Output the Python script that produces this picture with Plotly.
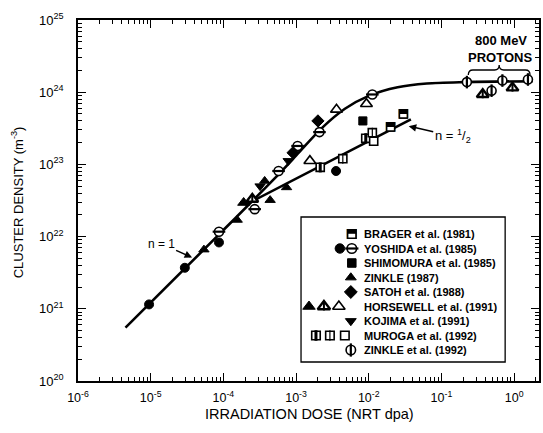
import plotly.graph_objects as go

# ---------------- data ----------------
YOSHIDA_FILLED_X = [9.5e-6, 2.95e-5, 8.7e-5, 3.55e-3]
YOSHIDA_FILLED_Y = [1.15e21, 3.7e21, 8.3e21, 8.1e22]
YOSHIDA_OPEN_X = [8.7e-5, 2.7e-4, 5.75e-4, 1.05e-3, 2.1e-3, 1.12e-2]
YOSHIDA_OPEN_Y = [1.17e22, 2.4e22, 8.1e22, 1.8e23, 2.8e23, 9.3e23]
ZINKLE87_X = [5.4e-5, 1.55e-4, 4.4e-4, 7.4e-4, 3.7e-4]
ZINKLE87_Y = [6.6e21, 1.7e22, 3.2e22, 4.8e22, 5.9e22]
KOJIMA_X = [3.2e-4, 7.8e-4]
KOJIMA_Y = [5.0e22, 1.12e23]
SATOH_X = [9.1e-4, 2.0e-3]
SATOH_Y = [1.45e23, 4.0e23]
SHIMOMURA_X = [8.3e-3]
SHIMOMURA_Y = [4.0e23]
HORSEWELL_FILLED_X = [1.9e-4]
HORSEWELL_FILLED_Y = [2.95e22]
HORSEWELL_HALF_X = [2.5e-4, 0.37, 0.95]
HORSEWELL_HALF_Y = [3.3e22, 9.3e23, 1.15e24]
HORSEWELL_OPEN_X = [1.55e-3, 3.6e-3, 9.3e-3]
HORSEWELL_OPEN_Y = [1.12e23, 5.75e23, 6.9e23]
BRAGER_X = [2.0e-2, 3.0e-2]
BRAGER_Y = [3.3e23, 5.0e23]
MUROGA_HALF_X = [2.15e-3, 9.1e-3]
MUROGA_HALF_Y = [9.1e22, 2.3e23]
MUROGA_SPLIT_X = [4.4e-3, 1.12e-2]
MUROGA_SPLIT_Y = [1.2e23, 2.75e23]
MUROGA_OPEN_X = [1.17e-2]
MUROGA_OPEN_Y = [2.1e23]
ZINKLE92_X = [0.224, 0.49, 0.69, 1.55]
ZINKLE92_Y = [1.38e24, 1.05e24, 1.45e24, 1.5e24]

# fitted curves
CURVE_N1_X = [4.5e-6, 1e-4, 5.0e-4, 1e-3, 2.24e-3, 4.7e-3, 1e-2, 2.5e-2, 6.3e-2, 0.2, 1.8]
CURVE_N1_Y = [5.5e20, 1.23e22, 6.3e22, 1.32e23, 3.16e23, 5.9e23, 8.9e23, 1.17e24, 1.32e24, 1.38e24, 1.42e24]
CURVE_NHALF_X = [2.0e-4, 3.8e-2]
CURVE_NHALF_Y = [2.75e22, 4.2e23]

XTICK_VALS = [1e-6, 1e-5, 1e-4, 1e-3, 1e-2, 1e-1, 1e0]
XTICK_TEXT = ["10<sup>-6</sup>", "10<sup>-5</sup>", "10<sup>-4</sup>", "10<sup>-3</sup>",
              "10<sup>-2</sup>", "10<sup>-1</sup>", "10<sup>0</sup>"]
YTICK_VALS = [1e20, 1e21, 1e22, 1e23, 1e24, 1e25]
YTICK_TEXT = ["10<sup>20</sup>", "10<sup>21</sup>", "10<sup>22</sup>", "10<sup>23</sup>",
              "10<sup>24</sup>", "10<sup>25</sup>"]

LEGEND_LABELS = ["BRAGER et al. (1981)", "YOSHIDA et al. (1985)", "SHIMOMURA et al. (1985)",
                 "ZINKLE (1987)", "SATOH et al. (1988)", "HORSEWELL et al. (1991)",
                 "KOJIMA et al. (1991)", "MUROGA et al. (1992)", "ZINKLE et al. (1992)"]

# ---------------- layout geometry ----------------
W, H = 543, 433
L, R, T, B = 78, 2, 20, 52
PW, PH = W - L - R, H - T - B


def px(xp):
    return (xp - L) / PW


def py(yp):
    return (H - B - yp) / PH


FONT = "Liberation Sans, Arial, sans-serif"
fig = go.Figure()

# curves
fig.add_trace(go.Scatter(x=CURVE_N1_X, y=CURVE_N1_Y, mode="lines",
                         line=dict(color="black", width=2.6, shape="spline", smoothing=0.8)))
fig.add_trace(go.Scatter(x=CURVE_NHALF_X, y=CURVE_NHALF_Y, mode="lines",
                         line=dict(color="black", width=2.6)))

MS = 9
LW = 1.6


def sym(xs, ys, symbol, size=MS, fill="black", lw=LW, xa="x", ya="y"):
    fig.add_trace(go.Scatter(x=xs, y=ys, mode="markers", xaxis=xa, yaxis=ya,
                             marker=dict(symbol=symbol, size=size, color=fill,
                                         line=dict(color="black", width=lw))))


def glyph(xs, ys, ch, size=11, xa="x", ya="y"):
    fig.add_trace(go.Scatter(x=xs, y=ys, mode="text", text=[ch] * len(xs), xaxis=xa, yaxis=ya,
                             textposition="middle center",
                             textfont=dict(family="DejaVu Sans", size=size, color="black")))


def draw_set(key, xs, ys, xa="x", ya="y", scale=1.0):
    s = MS * scale
    if key == "yosh_filled":
        sym(xs, ys, "circle", s, "black", 1, xa, ya)
    elif key == "yosh_open":
        sym(xs, ys, "circle", s, "white", LW, xa, ya)
        sym(xs, ys, "line-ew", s, "black", 2.2, xa, ya)
    elif key == "zinkle87":
        sym(xs, ys, "triangle-up", s, "black", 1, xa, ya)
    elif key == "kojima":
        sym(xs, ys, "triangle-down", s, "black", 1, xa, ya)
    elif key == "satoh":
        sym(xs, ys, "diamond", s * 1.05, "black", 1, xa, ya)
    elif key == "shimomura":
        sym(xs, ys, "square", s * 0.9, "black", 1, xa, ya)
    elif key == "hors_filled":
        sym(xs, ys, "triangle-up", s * 1.15, "black", 1, xa, ya)
    elif key == "hors_half":
        sym(xs, ys, "triangle-up", s * 1.15, "white", 2.4, xa, ya)
        sym(xs, ys, "line-ns", s * 0.6, "black", 2, xa, ya)
    elif key == "hors_open":
        sym(xs, ys, "triangle-up", s * 1.15, "white", LW, xa, ya)
    elif key == "brager":
        sym(xs, ys, "square", s * 0.9, "white", LW, xa, ya)
        glyph(xs, ys, "\u2b12", 12 * scale, xa, ya)
    elif key == "muroga_half":
        sym(xs, ys, "square", s * 0.9, "white", LW, xa, ya)
        sym(xs, ys, "line-ns", s * 0.8, "black", 3, xa, ya)
    elif key == "muroga_split":
        sym(xs, ys, "square", s * 0.9, "white", LW, xa, ya)
        sym(xs, ys, "line-ns", s * 0.8, "black", 1.2, xa, ya)
    elif key == "muroga_open":
        sym(xs, ys, "square", s * 0.9, "white", LW, xa, ya)
    elif key == "zinkle92":
        sym(xs, ys, "circle", s, "white", LW, xa, ya)
        sym(xs, ys, "line-ns", s, "black", 2.2, xa, ya)


draw_set("yosh_open", YOSHIDA_OPEN_X, YOSHIDA_OPEN_Y)
draw_set("yosh_filled", YOSHIDA_FILLED_X, YOSHIDA_FILLED_Y)
draw_set("zinkle87", ZINKLE87_X, ZINKLE87_Y)
draw_set("kojima", KOJIMA_X, KOJIMA_Y)
draw_set("satoh", SATOH_X, SATOH_Y)
draw_set("shimomura", SHIMOMURA_X, SHIMOMURA_Y)
draw_set("hors_filled", HORSEWELL_FILLED_X, HORSEWELL_FILLED_Y)
draw_set("hors_half", HORSEWELL_HALF_X, HORSEWELL_HALF_Y)
draw_set("hors_open", HORSEWELL_OPEN_X, HORSEWELL_OPEN_Y)
draw_set("brager", BRAGER_X, BRAGER_Y)
draw_set("muroga_half", MUROGA_HALF_X, MUROGA_HALF_Y)
draw_set("muroga_split", MUROGA_SPLIT_X, MUROGA_SPLIT_Y)
draw_set("muroga_open", MUROGA_OPEN_X, MUROGA_OPEN_Y)
draw_set("zinkle92", ZINKLE92_X, ZINKLE92_Y)

# ---------------- hand-made legend (keys on an overlay paper-like axis) ----------------
ROW0, PITCH = 234, 14.5
rows = [ROW0 + i * PITCH for i in range(len(LEGEND_LABELS))]
legend_keys = [
    [("brager", 353)],
    [("yosh_filled", 341), ("yosh_open", 353)],
    [("shimomura", 353)],
    [("zinkle87", 352)],
    [("satoh", 352)],
    [("hors_filled", 310), ("hors_half", 325), ("hors_open", 340)],
    [("kojima", 352)],
    [("muroga_half", 317), ("muroga_split", 331), ("muroga_open", 346)],
    [("zinkle92", 352)],
]
for row_y, keys in zip(rows, legend_keys):
    for key, kx in keys:
        draw_set(key, [px(kx)], [py(row_y)], "x2", "y2", 1.05)

fig.add_shape(type="rect", xref="paper", yref="paper",
              x0=px(302), x1=px(507), y0=py(362), y1=py(217),
              line=dict(color="black", width=1.3))

annotations = []
for row_y, lab in zip(rows, LEGEND_LABELS):
    annotations.append(dict(x=px(363), y=py(row_y), xref="paper", yref="paper",
                            text="<b>" + lab + "</b>", showarrow=False,
                            xanchor="left", yanchor="middle",
                            font=dict(family=FONT, size=11, color="black")))

# axis titles
annotations.append(dict(x=px(311), y=py(414), xref="paper", yref="paper",
                        text="IRRADIATION DOSE (NRT dpa)", showarrow=False,
                        xanchor="center", yanchor="middle",
                        font=dict(family=FONT, size=14.5, color="black")))
annotations.append(dict(x=px(17), y=py(202), xref="paper", yref="paper",
                        text="CLUSTER DENSITY (m<sup>-3</sup>)", showarrow=False, textangle=-90,
                        xanchor="center", yanchor="middle",
                        font=dict(family=FONT, size=13, color="black")))

# slope labels with arrows
annotations.append(dict(x=-4.43, y=21.71, xref="x", yref="y", text="n = 1",
                        showarrow=True, arrowhead=2, arrowsize=1, arrowwidth=1.5,
                        arrowcolor="black", ax=-31, ay=-14,
                        font=dict(family=FONT, size=12, color="black")))
annotations.append(dict(x=-1.45, y=23.53, xref="x", yref="y",
                        text="n = <sup>1</sup>/<sub>2</sub>",
                        showarrow=True, arrowhead=2, arrowsize=1, arrowwidth=1.5,
                        arrowcolor="black", ax=44, ay=10,
                        font=dict(family=FONT, size=13, color="black")))

# 800 MeV protons label
annotations.append(dict(x=px(503), y=py(40), xref="paper", yref="paper", text="<b>800 MeV</b>",
                        showarrow=False, xanchor="center", yanchor="middle",
                        font=dict(family=FONT, size=13, color="black")))
annotations.append(dict(x=px(502), y=py(57), xref="paper", yref="paper", text="<b>PROTONS</b>",
                        showarrow=False, xanchor="center", yanchor="middle",
                        font=dict(family=FONT, size=13, color="black")))

bx0, bx1, bm, by = px(470), px(532), px(501), py(70)
dy_end, dy_mid = py(75) - py(70), py(65) - py(70)
brace = (f"M {bx0} {by + dy_end} Q {bx0} {by} {bx0 + 0.01} {by} "
         f"L {bm - 0.01} {by} Q {bm} {by} {bm} {by + dy_mid} "
         f"Q {bm} {by} {bm + 0.01} {by} L {bx1 - 0.01} {by} Q {bx1} {by} {bx1} {by + dy_end}")
fig.add_shape(type="path", xref="paper", yref="paper", path=brace,
              line=dict(color="black", width=1.3))

axis_common = dict(type="log", showgrid=False, zeroline=False, showline=True,
                   linecolor="black", linewidth=1.6, mirror="allticks",
                   ticks="inside", ticklen=8, tickwidth=1.2, tickcolor="black",
                   minor=dict(ticks="inside", ticklen=4, tickwidth=1, tickcolor="black",
                              dtick="D1", showgrid=False),
                   tickmode="array")

fig.update_layout(
    width=W, height=H, margin=dict(l=L, r=R, t=T, b=B),
    paper_bgcolor="white", plot_bgcolor="white", showlegend=False,
    xaxis=dict(range=[-6, 6 * (W - R - L) / 438 - 6], tickvals=XTICK_VALS, ticktext=XTICK_TEXT,
               ticklabelstandoff=4, tickfont=dict(family=FONT, size=12.5, color="black"),
               **axis_common),
    yaxis=dict(range=[20, 25], tickvals=YTICK_VALS, ticktext=YTICK_TEXT,
               ticklabelstandoff=10, tickfont=dict(family=FONT, size=13, color="black"),
               **axis_common),
    xaxis2=dict(range=[0, 1], overlaying="x", visible=False, anchor="y2"),
    yaxis2=dict(range=[0, 1], overlaying="y", visible=False, anchor="x2"),
    annotations=annotations,
)

fig.write_html("out.html")
